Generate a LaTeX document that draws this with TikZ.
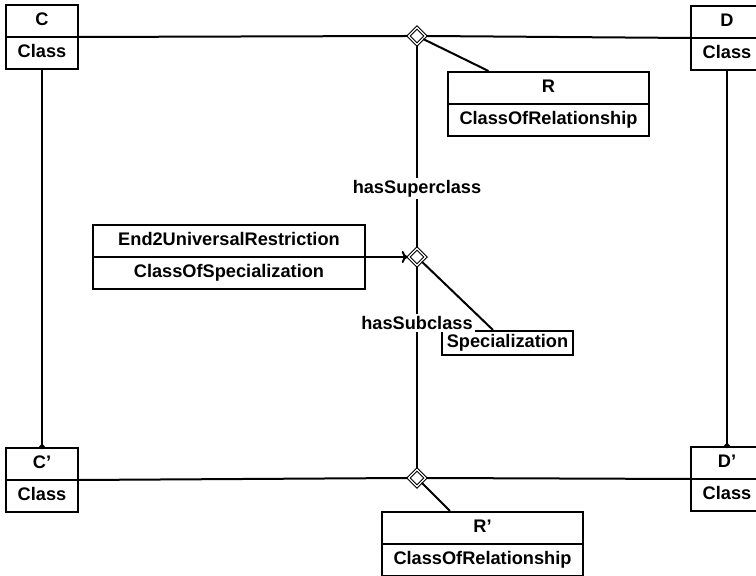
\documentclass[tikz,border=0pt]{standalone}
\usepackage{fontspec}
\setmainfont{Liberation Sans}
\usetikzlibrary{shapes.geometric,shapes.multipart,arrows.meta}

\newcommand{\umlpair}[2]{\strut #1\nodepart{two}\strut #2}

\begin{document}
\begin{tikzpicture}[x=0.5pt,y=-0.5pt,
	font=\fontsize{9.1}{11}\selectfont\bfseries,
	line width=1pt,
	classbox/.style={draw, rectangle split, rectangle split parts=2, inner xsep=2pt, inner ysep=2pt, text width=#1, align=center, anchor=north},
	relbox/.style={diamond, draw, double, double distance=0.6pt, line width=0.55pt, fill=white, inner sep=0pt, minimum size=8.8pt},
	dotend/.style={-{Circle[length=2.5pt]}, shorten >=-1pt}]
		\useasboundingbox (0,0) rectangle (756,576);
		\clip (0,0) rectangle (756,576);
		% classes
		\node[classbox=32pt] (c) at (42,4) {\umlpair{C}{Class}};
		\node[classbox=32pt] (d) at (727,5) {\umlpair{D}{Class}};
		\node[classbox=32pt] (cprime) at (42,447) {\umlpair{C’}{Class}};
		\node[classbox=32pt] (dprime) at (727,446) {\umlpair{D’}{Class}};
		\node[classbox=96.5pt] (r) at (548.5,71) {\umlpair{R}{ClassOfRelationship}};
		\node[classbox=96.5pt] (rprime) at (482.5,511) {\umlpair{R’}{ClassOfRelationship}};
		\node[classbox=132pt] (restriction) at (229,224) {\umlpair{End2UniversalRestriction}{ClassOfSpecialization}};
		\node[draw, inner xsep=2.5pt, inner ysep=0.5pt] (spec) at (507.5,343) {\strut Specialization};
		% relationship diamonds
		\node[relbox] (diamtop) at (417,36) {};
		\node[relbox] (diammid) at (417,257) {};
		\node[relbox] (diambot) at (417,478) {};
		% connectors
		\draw (c.text split east) -- (diamtop.west);
		\draw (diamtop.east) -- (d.text split west);
		\draw (diamtop) -- ([xshift=-30pt]r.north);
		\draw[dotend] (c.south) -- (cprime.north);
		\draw[dotend] (d.south) -- (dprime.north);
		\draw (diamtop) -- node[fill=white, pos=0.71, inner sep=1pt] {hasSuperclass} (diammid);
		\draw (diammid) -- node[fill=white, pos=0.28, inner sep=1pt] {hasSubclass} (diambot);
		\draw[-{To[length=3pt,width=6pt]}] (restriction.text split east) -- (diammid.west);
		\draw (diammid) -- ([xshift=-7.25pt]spec.north);
		\draw (cprime.text split east) -- (diambot.west);
		\draw (diambot.east) -- (dprime.text split west);
		\draw (diambot) -- ([xshift=-16.25pt]rprime.north);
\end{tikzpicture}
\end{document}
